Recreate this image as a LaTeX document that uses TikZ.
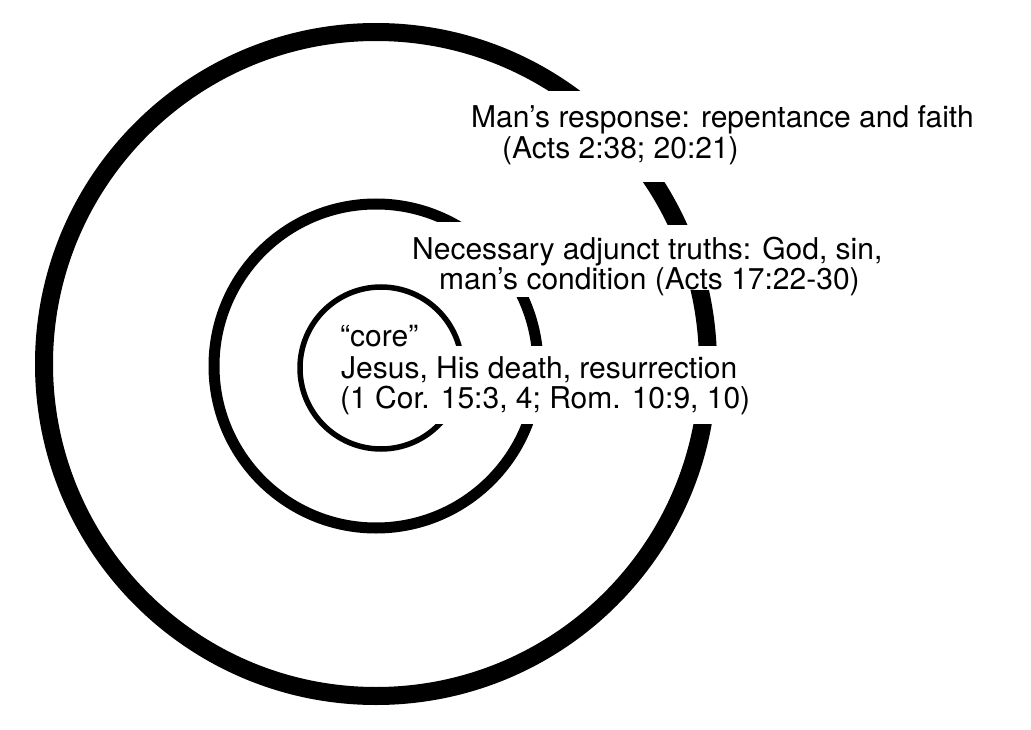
\documentclass[tikz,border=0pt]{standalone}
\usepackage{fontspec}
\setmainfont{TeX Gyre Heros}
\begin{document}
\begin{tikzpicture}[x=1pt,y=-1pt,
  lbl/.style={anchor=base west, inner sep=0pt, font=\fontsize{30}{31}\selectfont},
  gapbox/.style={fill=white, draw=none}]
\useasboundingbox (0,0) rectangle (1031,730);
\fill[white] (0,0) rectangle (1031,730);
% centres of the three rings
\coordinate (co) at (376,364);
\coordinate (cm) at (376,366);
\coordinate (ci) at (381,368);
% rings
\draw[line width=18pt] (co) circle (332pt);
\draw[line width=11pt] (cm) circle (162pt);
\draw[line width=5.5pt] (ci) circle (81pt);
% gaps where the text crosses the rings
\fill[gapbox] (540,91) rectangle (760,182);
\fill[gapbox] (600,225) rectangle (760,290);
\fill[gapbox] (436,222) rectangle (560,297);
\fill[gapbox] (430,346) rectangle (760,424);
% labels
\node[lbl] (t1a) at (471,128) {Man’s response: repentance and faith};
\node[lbl] (t1b) at (502,159) {(Acts 2:38; 20:21)};
\node[lbl] (t2a) at (412,259) {Necessary adjunct truths: God, sin,};
\node[lbl] (t2b) at (439,289) {man’s condition (Acts 17:22-30)};
\node[lbl] (t3a) at (340,346) {“core”};
\node[lbl] (t3b) at (341,378) {Jesus, His death, resurrection};
\node[lbl] (t3c) at (340,408) {(1 Cor. 15:3, 4; Rom. 10:9, 10)};
\end{tikzpicture}
\end{document}
